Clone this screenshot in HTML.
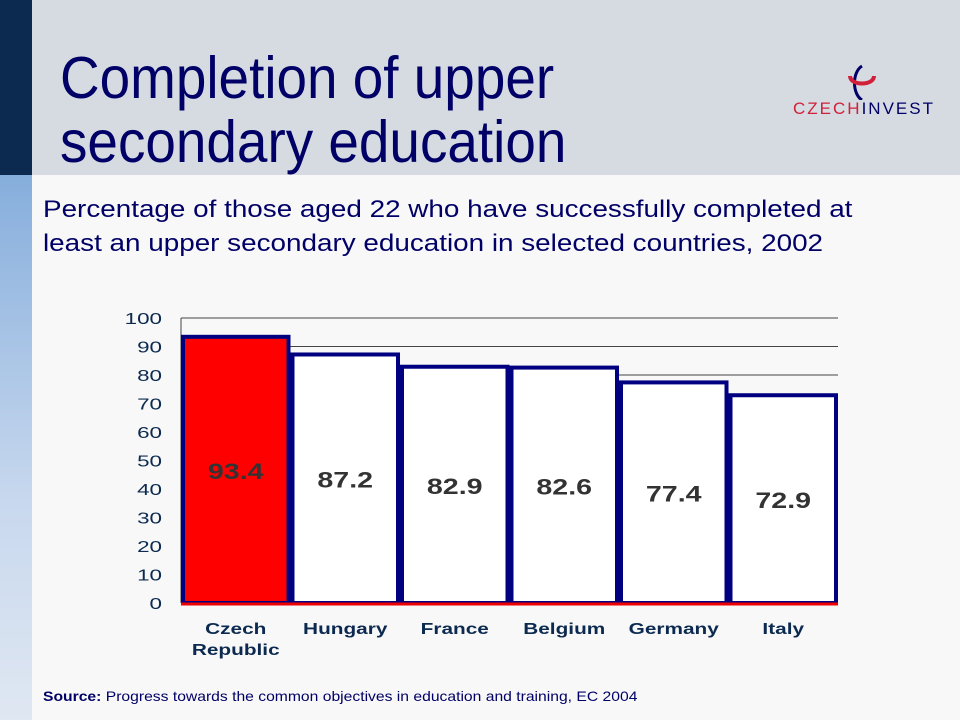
<!DOCTYPE html>
<html><head><meta charset="utf-8"><style>
body{margin:0;width:960px;height:720px;overflow:hidden;background:#f8f8f8;font-family:"Liberation Sans",sans-serif;position:relative}
.abs{position:absolute}
</style></head><body>
<div class="abs" style="left:0;top:0;width:960px;height:175px;background:#d6dbe2"></div>
<div class="abs" style="left:0;top:0;width:32px;height:175px;background:#0c2a4f"></div>
<div class="abs" style="left:0;top:175px;width:32px;height:545px;background:linear-gradient(#86aedc,#c8d8ee 60%,#dfe7f2)"></div>
<div class="abs" style="left:60px;top:46px;font-size:59px;line-height:64px;color:#000066;transform:scaleX(0.93);transform-origin:left top;white-space:nowrap">Completion of upper<br>secondary education</div>
<div class="abs" style="left:790px;top:64px;width:150px;height:60px">
<svg width="150" height="36" style="position:absolute;left:0;top:0"><path d="M72 2 C62 8 62 30 72 36" stroke="#000066" stroke-width="3" fill="none"/><path d="M60 12 C60 22 84 22 84 12" stroke="#d0203a" stroke-width="4" fill="none"/></svg>
<div style="position:absolute;left:3px;top:35px;font-size:17px;letter-spacing:2px;color:#000066"><span style="color:#d0203a">CZECH</span>INVEST</div></div>
<div class="abs" style="left:43px;top:193px;font-size:24px;line-height:34px;color:#000066;transform:scaleX(1.16);transform-origin:left top;white-space:nowrap">Percentage of those aged 22 who have successfully completed at<br>least an upper secondary education in selected countries, 2002</div>
<svg class="abs" style="left:0;top:0" width="960" height="720" id="chart"></svg>
<div class="abs" style="left:43px;top:688px;font-size:14px;color:#000066;transform:scaleX(1.12);transform-origin:left top;white-space:nowrap"><b>Source:</b> Progress towards the common objectives in education and training, EC 2004</div>
<script>
const categories=["Czech|Republic","Hungary","France","Belgium","Germany","Italy"];
const values=[93.4,87.2,82.9,82.6,77.4,72.9];
const yTicks=[0,10,20,30,40,50,60,70,80,90,100];
const NS="http://www.w3.org/2000/svg";
const svg=document.getElementById('chart');
const x0=181,x1=838,y0=603,yTop=318;
const y=v=>y0-(v/100)*(y0-yTop);
const bw=(x1-x0)/categories.length;
const bx=i=>x0+i*bw;
function mk(t,a){const e=document.createElementNS(NS,t);for(const k in a)e.setAttribute(k,a[k]);svg.appendChild(e);return e;}
function stretch(e,f){const w=e.getComputedTextLength();e.setAttribute('textLength',w*f);e.setAttribute('lengthAdjust','spacingAndGlyphs');}
yTicks.forEach(t=>{
 if(t>0){const l=mk('line',{x1:x0,x2:x1,y1:y(t),y2:y(t),stroke:'#444','stroke-width':1});
 
 }
 const s=String(t);
 const tx=mk('text',{x:162,y:y(t)+6,'text-anchor':'end','font-size':16,fill:'#0c2a4f','font-family':'Liberation Sans'});
 tx.textContent=s;
 stretch(tx,1.4);
 
 
});
const ax=mk('line',{x1:x0,x2:x0,y1:yTop,y2:y0,stroke:'#444','stroke-width':1});


values.forEach((v,i)=>{
 const r=mk('rect',{x:bx(i)+2,y:y(v),width:bw-4,height:y0-y(v),fill:i==0?'#ff0000':'#ffffff',stroke:'#000080','stroke-width':4});
 
 
 const lbl=v.toFixed(1);
 const t=mk('text',{x:bx(i)+bw/2,y:(y(v)+y0)/2+9,'text-anchor':'middle','font-size':22,'font-weight':'bold',fill:'#333','font-family':'Liberation Sans'});
 t.textContent=lbl;
 stretch(t,1.3);
 
 
 categories[i].split('|').forEach((s,j)=>{
  const c=mk('text',{x:bx(i)+bw/2,y:634+j*21,'text-anchor':'middle','font-size':16,'font-weight':'bold',fill:'#0c2a4f','font-family':'Liberation Sans'});
  c.textContent=s;
  stretch(c,1.3);
  
  
 });
});
const base=mk('line',{x1:x0,x2:x1,y1:y0+1,y2:y0+1,stroke:'#ee0000','stroke-width':3});


</script>
</body></html>
